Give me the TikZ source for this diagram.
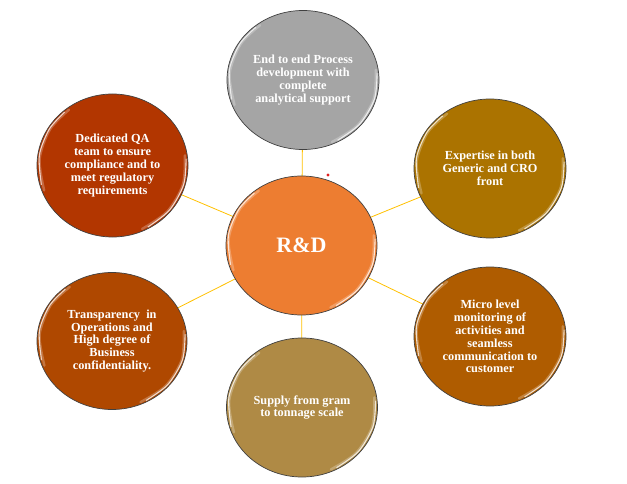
\documentclass[tikz,border=0pt]{standalone}
\usepackage{fontspec}
\setmainfont{Liberation Serif}
\usetikzlibrary{shapes.geometric,calc,backgrounds}
\definecolor{cgray}{HTML}{A5A5A5}
\definecolor{corange}{HTML}{ED7D31}
\definecolor{cul}{HTML}{B23600}
\definecolor{cur}{HTML}{AB7300}
\definecolor{clr}{HTML}{AF5C00}
\definecolor{cll}{HTML}{AF4800}
\definecolor{cbot}{HTML}{AF8A45}
\definecolor{clink}{HTML}{FFC000}
\definecolor{cdot}{HTML}{E02020}
\tikzset{
  bubble/.style={ellipse, draw=black!75, line width=0.7pt, fill=#1, inner sep=0pt,
    minimum width=152pt, minimum height=139pt, text=white, align=center,
    font=\fontsize{12.3}{12.9}\selectfont\bfseries},
  link/.style={draw=clink, line width=0.8pt},
  hl/.style={draw=white, line width=1.1pt, opacity=0.75, line cap=round},
  hlsoft/.style={draw=white, line width=2.4pt, opacity=0.25, line cap=round}
}
\newcommand{\glossy}[1]{%
  \draw[hlsoft] plot[smooth] coordinates {($(#1.center)!.965!(#1.128)$) ($(#1.center)!.965!(#1.150)$) ($(#1.center)!.965!(#1.175)$) ($(#1.center)!.965!(#1.200)$)};
  \draw[hl] plot[smooth] coordinates {($(#1.center)!.975!(#1.132)$) ($(#1.center)!.975!(#1.150)$) ($(#1.center)!.975!(#1.172)$) ($(#1.center)!.975!(#1.195)$)};
  \draw[hlsoft] plot[smooth] coordinates {($(#1.center)!.965!(#1.295)$) ($(#1.center)!.965!(#1.320)$) ($(#1.center)!.965!(#1.345)$) ($(#1.center)!.965!(#1.8)$)};
  \draw[hl] plot[smooth] coordinates {($(#1.center)!.975!(#1.300)$) ($(#1.center)!.975!(#1.322)$) ($(#1.center)!.975!(#1.345)$) ($(#1.center)!.975!(#1.5)$)};
}
\begin{document}
\begin{tikzpicture}[x=1pt,y=1pt]
\useasboundingbox (0,0) rectangle (627,483);
\node[bubble=corange, minimum width=151pt, minimum height=139pt,
  font=\fontsize{22}{24}\selectfont\bfseries] (rd) at (301.5,237.5) {R\&D};
\node[bubble=cgray] (top) at (303,403) {End to end Process\\development with\\complete\\analytical support};
\node[bubble=cur] (ur) at (490,314.5) {Expertise in both\\Generic and CRO\\front};
\node[bubble=clr] (lr) at (490,146.5) {Micro level\\monitoring of\\activities and\\seamless\\communication to\\customer};
\node[bubble=cbot, minimum width=151pt] (bot) at (302,75.5) {Supply from gram\\to tonnage scale};
\node[bubble=cll, minimum width=150pt, minimum height=137pt] (ll) at (112,142) {Transparency~ in\\Operations and\\High degree of\\Business\\confidentiality.};
\node[bubble=cul, minimum width=151pt, minimum height=143pt] (ul) at (112.5,317.5) {Dedicated QA\\team to ensure\\compliance and to\\meet regulatory\\requirements};
\begin{scope}[on background layer]
  \foreach \n in {top,ur,lr,bot,ll,ul} { \draw[link] (rd.center) -- (\n.center); }
\end{scope}
\foreach \n in {rd,top,ur,lr,bot,ll,ul} { \glossy{\n} }
\fill[cdot] (328,308) circle (1.7pt);
\end{tikzpicture}
\end{document}
